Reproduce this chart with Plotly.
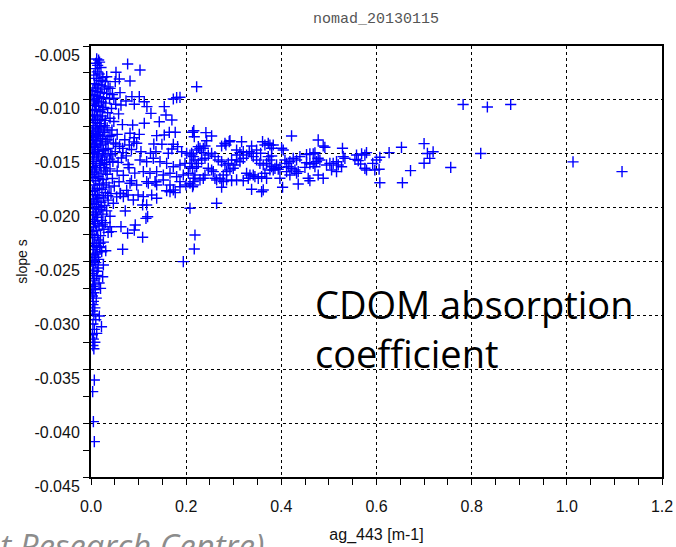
import plotly.graph_objects as go

# (ag_443 [m-1], slope s) pairs, grouped by part of the scatter
core_pts = [
    (0.012, -0.0062), (0.016, -0.0063), (0.010, -0.0066), (0.018, -0.0065), (0.014, -0.0068),
    (0.009, -0.0071), (0.021, -0.0070), (0.013, -0.0074), (0.006, -0.0077), (0.017, -0.0076),
    (0.025, -0.0079), (0.011, -0.0080), (0.019, -0.0082), (0.030, -0.0083), (0.007, -0.0085),
    (0.015, -0.0086), (0.023, -0.0087), (0.036, -0.0088), (0.010, -0.0089), (0.028, -0.0090),
    (0.004, -0.0091), (0.013, -0.0092), (0.020, -0.0093), (0.033, -0.0094), (0.045, -0.0095),
    (0.008, -0.0096), (0.017, -0.0097), (0.026, -0.0098), (0.039, -0.0099), (0.005, -0.0100),
    (0.012, -0.0101), (0.022, -0.0102), (0.031, -0.0103), (0.052, -0.0104), (0.009, -0.0105),
    (0.016, -0.0106), (0.027, -0.0107), (0.043, -0.0108), (0.003, -0.0109), (0.011, -0.0110),
    (0.019, -0.0111), (0.035, -0.0112), (0.058, -0.0113), (0.007, -0.0114), (0.024, -0.0115),
    (0.014, -0.0116), (0.040, -0.0117), (0.004, -0.0118), (0.030, -0.0119), (0.048, -0.0120),
    (0.010, -0.0121), (0.018, -0.0122), (0.066, -0.0123),
    (0.006, -0.0124), (0.021, -0.0125), (0.034, -0.0126), (0.013, -0.0127), (0.044, -0.0128),
    (0.003, -0.0129), (0.027, -0.0130), (0.009, -0.0131), (0.055, -0.0132), (0.017, -0.0133),
    (0.038, -0.0134), (0.005, -0.0135), (0.024, -0.0136), (0.071, -0.0137), (0.012, -0.0138),
    (0.031, -0.0139), (0.047, -0.0140), (0.008, -0.0141), (0.019, -0.0142), (0.060, -0.0143),
    (0.002, -0.0144), (0.036, -0.0145), (0.014, -0.0146), (0.026, -0.0147), (0.051, -0.0148),
    (0.007, -0.0149), (0.041, -0.0150), (0.016, -0.0151), (0.029, -0.0152), (0.004, -0.0153),
    (0.064, -0.0154), (0.011, -0.0155), (0.022, -0.0156), (0.046, -0.0157), (0.033, -0.0158),
    (0.006, -0.0159), (0.078, -0.0160), (0.018, -0.0161),
    (0.010, -0.0126), (0.029, -0.0128), (0.015, -0.0132), (0.042, -0.0133), (0.003, -0.0137),
    (0.020, -0.0139), (0.052, -0.0141), (0.009, -0.0144), (0.031, -0.0146), (0.067, -0.0149),
    (0.013, -0.0150), (0.024, -0.0153), (0.039, -0.0155), (0.005, -0.0157), (0.057, -0.0158),
    (0.028, -0.0160), (0.085, -0.0146), (0.074, -0.0152), (0.090, -0.0139), (0.082, -0.0131),
    (0.003, -0.0162), (0.027, -0.0163), (0.040, -0.0164), (0.012, -0.0165), (0.055, -0.0166),
    (0.007, -0.0167), (0.021, -0.0168), (0.034, -0.0169), (0.068, -0.0170), (0.015, -0.0171),
    (0.004, -0.0172), (0.045, -0.0173), (0.025, -0.0174), (0.010, -0.0175), (0.059, -0.0176),
    (0.032, -0.0177), (0.018, -0.0178), (0.006, -0.0179), (0.049, -0.0180), (0.038, -0.0181),
    (0.013, -0.0182), (0.023, -0.0183), (0.075, -0.0184), (0.003, -0.0185), (0.030, -0.0186),
    (0.042, -0.0187), (0.009, -0.0188), (0.017, -0.0189), (0.054, -0.0190), (0.026, -0.0191),
    (0.005, -0.0192), (0.036, -0.0193), (0.012, -0.0194), (0.021, -0.0195), (0.047, -0.0196),
    (0.008, -0.0197), (0.029, -0.0198), (0.016, -0.0199), (0.062, -0.0187), (0.085, -0.0175),
    (0.092, -0.0168), (0.080, -0.0163),
    (0.004, -0.0201), (0.019, -0.0202), (0.033, -0.0203), (0.010, -0.0204), (0.025, -0.0206),
    (0.006, -0.0207), (0.040, -0.0208), (0.014, -0.0209), (0.003, -0.0211), (0.022, -0.0212),
    (0.030, -0.0214), (0.009, -0.0215), (0.017, -0.0217), (0.005, -0.0218), (0.027, -0.0220),
    (0.012, -0.0221), (0.036, -0.0223), (0.004, -0.0225), (0.020, -0.0226), (0.008, -0.0228),
    (0.015, -0.0230), (0.026, -0.0232), (0.003, -0.0233), (0.011, -0.0235), (0.018, -0.0237),
    (0.006, -0.0239), (0.031, -0.0240), (0.013, -0.0242), (0.004, -0.0244), (0.009, -0.0246),
    (0.016, -0.0248), (0.007, -0.0249),
    (0.010, -0.0251), (0.004, -0.0253), (0.015, -0.0256), (0.006, -0.0258), (0.003, -0.0261),
    (0.012, -0.0263), (0.008, -0.0266), (0.005, -0.0268), (0.017, -0.0270), (0.004, -0.0273),
    (0.009, -0.0276), (0.006, -0.0279), (0.003, -0.0282), (0.011, -0.0284), (0.005, -0.0287),
    (0.004, -0.0290), (0.008, -0.0293), (0.003, -0.0296), (0.006, -0.0299), (0.010, -0.0304),
    (0.004, -0.0308), (0.007, -0.0313), (0.003, -0.0318), (0.005, -0.0322), (0.008, -0.0325),
    (0.004, -0.0328), (0.006, -0.0331),
    (0.002, -0.0095), (0.007, -0.0103), (0.014, -0.0099), (0.024, -0.0109), (0.003, -0.0115),
    (0.009, -0.0119), (0.021, -0.0118), (0.028, -0.0124), (0.016, -0.0129), (0.002, -0.0133),
    (0.011, -0.0134), (0.034, -0.0137), (0.023, -0.0141), (0.006, -0.0143), (0.015, -0.0148),
    (0.044, -0.0151), (0.003, -0.0150), (0.020, -0.0159), (0.009, -0.0163), (0.031, -0.0166),
    (0.002, -0.0169), (0.017, -0.0173), (0.026, -0.0179), (0.008, -0.0184), (0.035, -0.0189),
    (0.014, -0.0191), (0.002, -0.0196), (0.022, -0.0200), (0.011, -0.0206), (0.007, -0.0213),
    (0.024, -0.0216), (0.002, -0.0222), (0.014, -0.0226), (0.019, -0.0233), (0.006, -0.0236),
    (0.010, -0.0243), (0.002, -0.0250), (0.013, -0.0259), (0.007, -0.0271), (0.002, -0.0276),
]

spread_pts = [
    (0.077, -0.00667), (0.103, -0.00723), (0.0525, -0.00744), (0.033, -0.00785), (0.0595, -0.00806),
    (0.082, -0.00825), (0.051, -0.00831), (0.023, -0.00825), (0.040, -0.00893), (0.061, -0.00933),
    (0.086, -0.0097), (0.1015, -0.0097), (0.048, -0.00985), (0.173, -0.00992), (0.180, -0.0098),
    (0.187, -0.00976), (0.0735, -0.0101), (0.063, -0.01048), (0.091, -0.0104), (0.112, -0.01017),
    (0.154, -0.01063), (0.1175, -0.01063), (0.126, -0.01125), (0.1575, -0.0114), (0.170, -0.01187),
    (0.1435, -0.01203), (0.112, -0.01217), (0.0875, -0.01233), (0.177, -0.01301), (0.1645, -0.01301),
    (0.154, -0.01326), (0.138, -0.01332), (0.149, -0.01412), (0.173, -0.01412), (0.182, -0.01434),
    (0.170, -0.01456), (0.1015, -0.0132), (0.091, -0.01351), (0.096, -0.01403), (0.105, -0.01481),
    (0.1365, -0.01481), (0.0805, -0.01419), (0.0665, -0.0145), (0.2135, -0.01301), (0.217, -0.01342),
    (0.222, -0.00878), (0.132, -0.0141), (0.125, -0.01496), (0.1625, -0.01496), (0.1905, -0.01481),
    (0.201, -0.01496), (0.208, -0.01512),
    (0.103, -0.01558), (0.117, -0.01574), (0.131, -0.01542), (0.145, -0.01574), (0.159, -0.01589),
    (0.173, -0.0162), (0.187, -0.01604), (0.1975, -0.01589), (0.208, -0.0162), (0.110, -0.01666),
    (0.124, -0.01681), (0.138, -0.01666), (0.152, -0.01697), (0.166, -0.01681), (0.180, -0.01713),
    (0.194, -0.01697), (0.2045, -0.01681), (0.117, -0.01759), (0.152, -0.01743), (0.166, -0.0179),
    (0.187, -0.01806), (0.208, -0.01774),
    (0.082, -0.01774), (0.096, -0.0179), (0.1205, -0.01774), (0.1345, -0.01759), (0.166, -0.01852),
    (0.187, -0.01759), (0.215, -0.01759), (0.061, -0.01867), (0.068, -0.01898), (0.078, -0.01883),
    (0.089, -0.01929), (0.099, -0.01883), (0.110, -0.01898), (0.1275, -0.01883), (0.138, -0.01913),
    (0.117, -0.01975), (0.1365, -0.0176), (0.138, -0.0179), (0.159, -0.01843), (0.173, -0.01836),
    (0.177, -0.01861), (0.1995, -0.0179), (0.2135, -0.01806), (0.1085, -0.01975),
    (0.072, -0.02031), (0.1155, -0.021), (0.119, -0.02084), (0.093, -0.02161), (0.063, -0.02177),
    (0.091, -0.02208), (0.077, -0.02238), (0.1085, -0.02275), (0.0665, -0.02387), (0.2185, -0.02254),
    (0.217, -0.02384), (0.264, -0.0196), (0.208, -0.02006), (0.194, -0.02501), (0.043, -0.02223),
    (0.040, -0.02177), (0.019, -0.02362), (0.0225, -0.02409),
    (0.026, -0.02532), (0.0245, -0.02641), (0.020, -0.02749), (0.0175, -0.03006), (0.022, -0.03105),
    (0.012, -0.03167), (0.007, -0.0360), (0.0035, -0.03708), (0.005, -0.03986), (0.007, -0.04172),
]

tail_pts = [
    (0.782, -0.01043), (0.833, -0.01066), (0.882, -0.01043), (0.700, -0.01406), (0.707, -0.01497),
    (0.719, -0.01482), (0.712, -0.01543), (0.700, -0.01588), (0.756, -0.01627), (0.819, -0.01497),
    (1.013, -0.01575), (1.116, -0.01666),
    (0.216, -0.01286), (0.2415, -0.01304), (0.2535, -0.01335), (0.3165, -0.01388), (0.2905, -0.01388),
    (0.2835, -0.01419), (0.2745, -0.01428), (0.243, -0.01379), (0.2395, -0.01428), (0.229, -0.01449),
    (0.3605, -0.01388), (0.3655, -0.01419), (0.376, -0.01419), (0.4215, -0.01335), (0.4775, -0.01372),
    (0.488, -0.01428), (0.4915, -0.0144), (0.5285, -0.01449), (0.6525, -0.0144), (0.6265, -0.0149),
    (0.6715, -0.01657), (0.6545, -0.01769), (0.607, -0.01769), (0.5965, -0.01651), (0.6055, -0.01644),
    (0.592, -0.01589), (0.600, -0.01558), (0.607, -0.01533), (0.5756, -0.01512), (0.579, -0.0149),
    (0.5687, -0.01502), (0.558, -0.01512), (0.5546, -0.01552), (0.5616, -0.01564), (0.5666, -0.01595),
    (0.5756, -0.01635), (0.579, -0.01651), (0.530, -0.01527), (0.5336, -0.01542), (0.516, -0.01574),
    (0.509, -0.01589), (0.5196, -0.01604), (0.502, -0.01589), (0.495, -0.01604), (0.5056, -0.01651),
    (0.516, -0.01666), (0.5266, -0.0162), (0.4775, -0.01542), (0.481, -0.01558), (0.474, -0.01574),
    (0.467, -0.01589), (0.4706, -0.0162), (0.460, -0.01595), (0.453, -0.01583), (0.4496, -0.01626),
    (0.4775, -0.01697), (0.488, -0.01728), (0.4565, -0.01728), (0.460, -0.0175), (0.4355, -0.01781),
    (0.439, -0.01527), (0.432, -0.01558), (0.425, -0.01542), (0.418, -0.01574), (0.411, -0.01589),
    (0.4076, -0.01558), (0.4145, -0.0162), (0.4215, -0.01635), (0.4286, -0.01651), (0.432, -0.01681),
    (0.4355, -0.01666), (0.411, -0.01666), (0.418, -0.01697), (0.453, -0.01508), (0.460, -0.0150),
    (0.467, -0.0150), (0.4706, -0.01491), (0.404, -0.01465), (0.4006, -0.01449), (0.390, -0.01604),
    (0.3866, -0.01635), (0.383, -0.01651), (0.3935, -0.01644), (0.397, -0.01626), (0.3796, -0.0162),
    (0.376, -0.01651), (0.397, -0.01728), (0.4026, -0.01811), (0.362, -0.01836), (0.3586, -0.01852),
    (0.3375, -0.0183), (0.3655, -0.01681), (0.369, -0.01728), (0.3586, -0.01713), (0.3515, -0.01728),
    (0.3445, -0.01713), (0.341, -0.01697), (0.334, -0.01697), (0.327, -0.01681),
    (0.3725, -0.01527), (0.3796, -0.01521), (0.376, -0.01558), (0.369, -0.01589), (0.362, -0.01604),
    (0.355, -0.01589), (0.348, -0.01558), (0.341, -0.01527), (0.3375, -0.01496), (0.3326, -0.01481),
    (0.327, -0.01512), (0.320, -0.01542), (0.313, -0.01574), (0.306, -0.01558), (0.3025, -0.01604),
    (0.299, -0.01635), (0.292, -0.01651), (0.285, -0.01666), (0.278, -0.01697), (0.271, -0.01728),
    (0.264, -0.01743), (0.2605, -0.01728), (0.257, -0.01666), (0.2535, -0.01651), (0.2465, -0.01635),
    (0.2395, -0.01697), (0.236, -0.01728), (0.229, -0.01743), (0.2185, -0.01697), (0.2165, -0.01728),
    (0.215, -0.0179), (0.222, -0.0162), (0.2255, -0.01589), (0.2325, -0.01558), (0.2395, -0.01542),
    (0.2465, -0.01512), (0.2535, -0.01496), (0.2605, -0.01527), (0.2675, -0.01558), (0.2745, -0.01574),
    (0.2815, -0.01604), (0.2885, -0.01589), (0.2955, -0.01558), (0.306, -0.01512), (0.313, -0.0149),
    (0.278, -0.01759), (0.285, -0.01743), (0.2745, -0.01811), (0.2955, -0.0175), (0.306, -0.01743),
    (0.320, -0.0175), (0.3305, -0.01728), (0.2815, -0.01403), (0.292, -0.01379), (0.306, -0.01465),
    (0.320, -0.01481), (0.3375, -0.01428), (0.348, -0.01465), (0.3565, -0.01496), (0.3796, -0.01449),
    (0.383, -0.01419), (0.3725, -0.01403), (0.2115, -0.01496), (0.215, -0.01527), (0.2185, -0.01558),
    (0.2115, -0.01589), (0.2135, -0.01635), (0.222, -0.01465), (0.2325, -0.0149), (0.236, -0.01449),
    (0.2255, -0.01434),
]

x_ticks = [0.0, 0.2, 0.4, 0.6, 0.8, 1.0, 1.2]
y_ticks = [-0.045, -0.040, -0.035, -0.030, -0.025, -0.020, -0.015, -0.010, -0.005]

all_pts = core_pts + spread_pts + tail_pts
ag_443 = [p[0] for p in all_pts]
slope_s = [p[1] for p in all_pts]

fig = go.Figure(
    go.Scatter(
        x=ag_443, y=slope_s, mode="markers",
        marker=dict(symbol="cross-thin", size=8, color="#0000ff",
                    line=dict(width=1.4, color="#0000ff")),
        hoverinfo="skip",
    )
)

axis_common = dict(
    showline=True, linewidth=2, linecolor="black", mirror=True,
    showgrid=True, gridcolor="black", griddash="dot", gridwidth=1.3,
    zeroline=False, ticks="outside", ticklen=6, tickwidth=1.3, tickcolor="black",
    automargin=False,
    tickfont=dict(family="Liberation Sans, Arial, sans-serif", size=16, color="#111"),
)

fig.update_xaxes(
    range=[0, 1.2], tickmode="array", tickvals=x_ticks,
    ticktext=[f"{v:.1f}" for v in x_ticks],
    minor=dict(tick0=0, dtick=0.05, ticks="outside", ticklen=6, tickwidth=1.3,
               tickcolor="black", showgrid=False),
    ticklabelstandoff=8,
    title=dict(text="ag_443 [m-1]", standoff=15,
               font=dict(family="Liberation Sans, Arial, sans-serif", size=16, color="#111")),
    **axis_common,
)
fig.update_yaxes(
    range=[-0.045, -0.005], tickmode="array", tickvals=y_ticks,
    ticktext=[f"{v:.3f}" for v in y_ticks],
    minor=dict(tick0=-0.045, dtick=0.0025, ticks="outside", ticklen=6, tickwidth=1.3,
               tickcolor="black", showgrid=False),
    ticklabelshift=9,
    title=dict(text="slope s", standoff=4,
               font=dict(family="Liberation Sans, Arial, sans-serif", size=14, color="#111")),
    **axis_common,
)

fig.update_layout(
    width=676, height=547,
    margin=dict(l=91, r=14, t=46, b=70),
    paper_bgcolor="white", plot_bgcolor="white", showlegend=False,
    title=dict(text="nomad_20130115", x=376 / 676, xanchor="center",
               y=1 - 18 / 547, yanchor="middle",
               font=dict(family="Liberation Mono, Courier New, monospace", size=15, color="#555")),
)

fig.add_annotation(
    text="CDOM absorption<br>coefficient", xref="paper", yref="paper", align="left",
    x=(313 - 91) / 571, xanchor="left", y=(477 - 328) / 431, yanchor="middle",
    showarrow=False, font=dict(family="Open Sans, sans-serif", size=38, color="black"),
)
fig.add_annotation(
    text="<i>(Joint Research Centre)</i>", xref="paper", yref="paper",
    x=(266 - 91) / 571, xanchor="right", y=(477 - 521) / 431, yanchor="top",
    showarrow=False, font=dict(family="Open Sans, sans-serif", size=33, color="#8c8c8c"),
)

fig.write_html("out.html")
